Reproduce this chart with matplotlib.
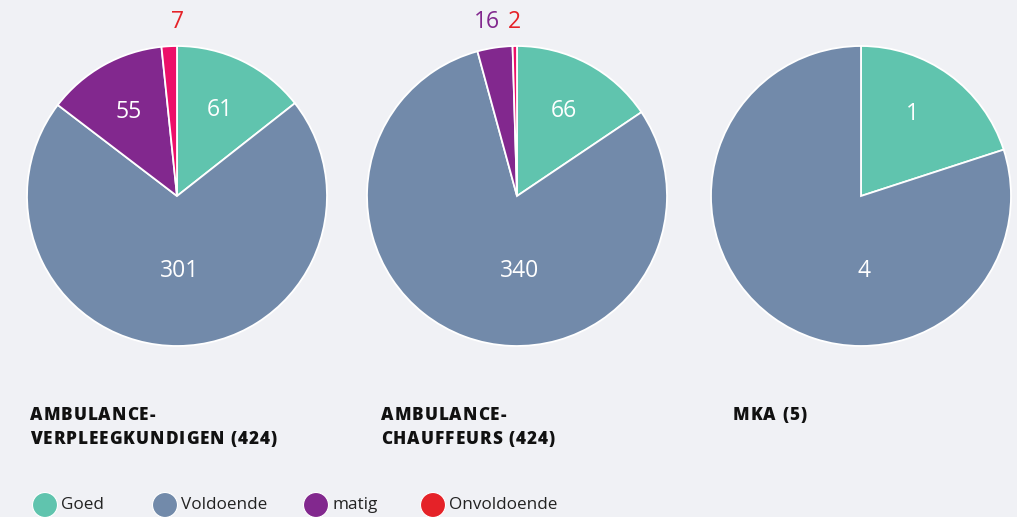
import matplotlib
matplotlib.use("Agg")
import matplotlib.pyplot as plt
import numpy as np
from matplotlib.patches import Circle
from matplotlib.font_manager import FontProperties

categories = ["Goed", "Voldoende", "matig", "Onvoldoende"]
titles = ["AMBULANCE-\nVERPLEEGKUNDIGEN (424)", "AMBULANCE-\nCHAUFFEURS (424)", "MKA (5)"]
values = [
    [61, 301, 55, 7],
    [66, 340, 16, 2],
    [1, 4, 0, 0],
]
slice_colors = ["#60c4ae", "#728aaa", "#82288e", "#ec1069"]
legend_colors = ["#60c4ae", "#728aaa", "#82288e", "#e52228"]
outside_colors = {2: "#82288e", 3: "#e52228"}

BG = "#f0f1f5"
W, H = 1017, 517
plt.rcParams['font.family'] = ['Open Sans', 'DejaVu Sans']
fig = plt.figure(figsize=(W / 100, H / 100), dpi=100)
fig.patch.set_facecolor(BG)

centers = [(177, 196), (517, 196), (861, 196)]
R = 150
title_x = [30, 381, 733]

for i, (vals, (cx, cy)) in enumerate(zip(values, centers)):
    ax = fig.add_axes([(cx - R) / W, (H - cy - R) / H, 2 * R / W, 2 * R / H])
    ax.set_facecolor(BG)
    nz = [(v, c, k) for k, (v, c) in enumerate(zip(vals, slice_colors)) if v > 0]
    ax.pie([v for v, _, _ in nz], colors=[c for _, c, _ in nz], startangle=90,
           counterclock=False, radius=1,
           wedgeprops=dict(edgecolor="white", linewidth=1.3))
    ax.set_xlim(-1, 1)
    ax.set_ylim(-1, 1)
    ax.set_aspect("equal")
    ax.axis("off")
    total = sum(vals)
    cum = 0
    for v, c, k in nz:
        frac = v / total
        mid = (cum + v / 2) / total * 2 * np.pi  # clockwise from top
        cum += v
        if frac > 0.5:
            tx, ty = 0.02, -0.5
        elif frac > 0.08:
            ang = min(mid, np.radians(31)) if mid < np.pi else mid
            tx, ty = 0.66 * np.sin(ang), 0.64 * np.cos(ang)
        else:
            xo = 1.16 * np.sin(mid)
            if k == 3 and i == 0:
                xo = 0.0
            if k == 2:
                xo -= 0.03
            ax.text(xo, 1.16, str(v), color=outside_colors.get(k, c),
                    fontsize=16.5, ha="center", va="center")
            continue
        ax.text(tx, ty, str(v), color="white", fontsize=16.5, ha="center", va="center")

# titles with letter spacing
renderer = fig.canvas.get_renderer()
tprop = FontProperties(family=["Open Sans", "DejaVu Sans"], weight="heavy", size=12.3)


def textw(s):
    w1, _, _ = renderer.get_text_width_height_descent(s + "|", tprop, ismath=False)
    w2, _, _ = renderer.get_text_width_height_descent("|", tprop, ismath=False)
    return w1 - w2


spacing = 0.95
for t, x0 in zip(titles, title_x):
    for li, line in enumerate(t.split("\n")):
        base_y = 420 + li * 24
        for k, ch in enumerate(line):
            if ch == " ":
                continue
            x = x0 + textw(line[:k]) + k * spacing
            fig.text(x / W, 1 - base_y / H, ch, fontproperties=tprop,
                     ha="left", va="baseline", color="#111111")

# legend
legend_cx = [45, 165, 316, 433]
lax = fig.add_axes([0, 0, 1, 1], facecolor="none")
lax.set_xlim(0, W)
lax.set_ylim(H, 0)
lax.axis("off")
for name, col, lx in zip(categories, legend_colors, legend_cx):
    lax.add_patch(Circle((lx, 505), 12.5, color=col, ec="white", lw=0.8))
    lax.text(lx + 16, 505, name, fontsize=12.3, va="center", ha="left", color="#222222")

fig.savefig("out.png", dpi=100, facecolor=BG)
